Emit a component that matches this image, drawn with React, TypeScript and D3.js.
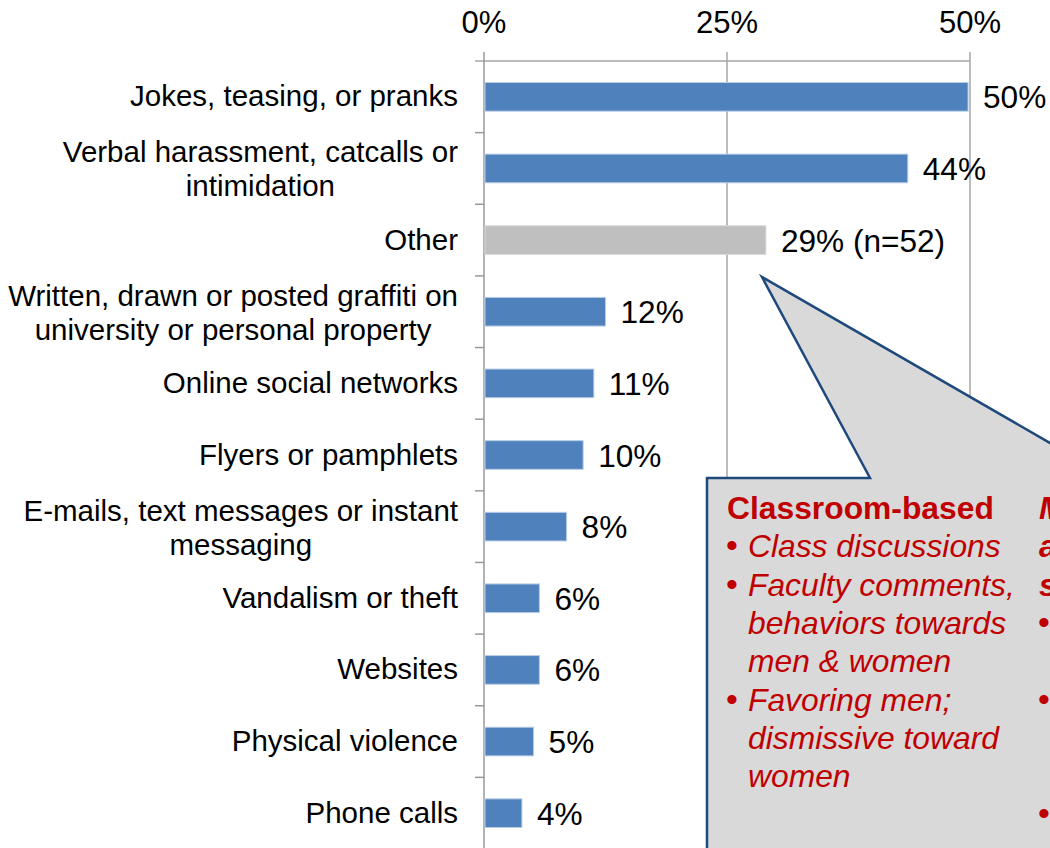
import React from "react";
import * as d3 from "d3";

const categories: string[][] = [
  ["Jokes, teasing, or pranks"],
  ["Verbal harassment, catcalls or", "intimidation"],
  ["Other"],
  ["Written, drawn or posted graffiti on", "university or personal property"],
  ["Online social networks"],
  ["Flyers or pamphlets"],
  ["E-mails, text messages or instant", "messaging"],
  ["Vandalism or theft"],
  ["Websites"],
  ["Physical violence"],
  ["Phone calls"],
];
const values: number[] = [49.8, 43.6, 29.0, 12.5, 11.3, 10.2, 8.5, 5.7, 5.7, 5.1, 3.9];
const valueLabels: string[] = ["50%", "44%", "29% (n=52)", "12%", "11%", "10%", "8%", "6%", "6%", "5%", "4%"];
const highlight: boolean[] = [false, false, true, false, false, false, false, false, false, false, false];
const ticks: number[] = [0, 25, 50];
const tickLabels: string[] = ["0%", "25%", "50%"];

const calloutCol1: { text: string; kind: "head" | "bullet" | "cont" }[] = [
  { text: "Classroom-based", kind: "head" },
  { text: "Class discussions", kind: "bullet" },
  { text: "Faculty comments,", kind: "bullet" },
  { text: "behaviors towards", kind: "cont" },
  { text: "men & women", kind: "cont" },
  { text: "Favoring men;", kind: "bullet" },
  { text: "dismissive toward", kind: "cont" },
  { text: "women", kind: "cont" },
];
const calloutCol2: { text: string; kind: "head" | "bullet" | "cont" }[] = [
  { text: "Male-dominated", kind: "head" },
  { text: "academic", kind: "head" },
  { text: "settings", kind: "head" },
  { text: "Labs and", kind: "bullet" },
  { text: "field work", kind: "cont" },
  { text: "Advising and", kind: "bullet" },
  { text: "mentoring", kind: "cont" },
  { text: "", kind: "cont" },
  { text: "Other", kind: "bullet" },
];

const FONT = "'Liberation Sans', Arial, Helvetica, sans-serif";

export default function App() {
  const W = 1050;
  const H = 848;
  const x0 = 484;
  const x50 = 970;
  const top = 61;
  const bottom = 849;

  const x = d3.scaleLinear().domain([0, 50]).range([x0, x50]);
  const idx = categories.map((_, i) => String(i));
  const y = d3.scaleBand<string>().domain(idx).range([top, bottom]).padding(0);
  const step = y.step();
  const barH = step * 0.4;

  const gridColor = "#a6a6a6";
  const red = "#c00000";

  const tipX = 762, tipY = 277;
  const boxTop = 478, boxLeft = 707;
  const baseLeftX = 870;
  const slope = (443 - tipY) / (1050 - tipX);
  const baseRightX = tipX + (boxTop - tipY) / slope;
  const callout = [
    [boxLeft, boxTop],
    [baseLeftX, boxTop],
    [tipX, tipY],
    [baseRightX, boxTop],
    [1200, boxTop],
    [1200, 950],
    [boxLeft, 950],
  ];
  const calloutPath = d3.line()(callout as [number, number][]) + "Z";

  const lineH = 38.3;
  const firstBase = 519;
  const cfs = 31.8;

  const renderCol = (
    rows: { text: string; kind: string }[],
    colX: number,
    headItalic: boolean
  ) =>
    rows.map((r, i) => {
      const by = firstBase + i * lineH;
      if (r.kind === "head") {
        return (
          <text key={i} x={colX} y={by} fill={red} fontSize={cfs} fontWeight="bold" fontStyle={headItalic ? "italic" : "normal"} fontFamily={FONT}>
            {r.text}
          </text>
        );
      }
      return (
        <g key={i}>
          {r.kind === "bullet" && (
            <text x={colX - 1} y={by} fill={red} fontSize={cfs + 2} fontFamily={FONT}>
              •
            </text>
          )}
          <text x={colX + 21} y={by} fill={red} fontSize={cfs} fontStyle="italic" fontFamily={FONT}>
            {r.text}
          </text>
        </g>
      );
    });

  return (
    <svg
      width={W}
      height={H}
      style={{ position: "absolute", left: 0, top: 0, background: "#fff" }}
      fontFamily={FONT}
    >
      {/* top axis line */}
      <line x1={475} x2={x50} y1={top} y2={top} stroke={gridColor} strokeWidth={1.5} />
      {/* vertical gridlines + ticks */}
      {ticks.map((t) => (
        <line key={t} x1={x(t)} x2={x(t)} y1={52} y2={H} stroke={t === 0 ? "#999" : gridColor} strokeWidth={1.5} />
      ))}
      {ticks.map((t, i) => (
        <text key={"tl" + t} x={x(t)} y={33} textAnchor="middle" fontSize={31} fill="#000">
          {tickLabels[i]}
        </text>
      ))}
      {/* category boundary ticks */}
      {idx.map((d) => (
        <line key={"ct" + d} x1={475} x2={x0} y1={(y(d) as number) + step} y2={(y(d) as number) + step} stroke="#999" strokeWidth={1.5} />
      ))}
      {/* bars */}
      {values.map((v, i) => {
        const cy = (y(String(i)) as number) + step / 2;
        return (
          <rect
            key={"b" + i}
            x={x(0) + 1}
            y={cy - barH / 2}
            width={x(v) - x(0) - 1}
            height={barH}
            fill={highlight[i] ? "#bfbfbf" : "#4f81bd"}
            stroke={highlight[i] ? "#d9d9d9" : "#b9cde5"}
            strokeWidth={1}
          />
        );
      })}
      {/* value labels */}
      {values.map((v, i) => {
        const cy = (y(String(i)) as number) + step / 2;
        return (
          <text key={"v" + i} x={x(v) + 15} y={cy + 11.5} fontSize={31.6} fill="#000">
            {valueLabels[i]}
          </text>
        );
      })}
      {/* category labels */}
      {categories.map((lines, i) => {
        const cy = (y(String(i)) as number) + step / 2;
        const n = lines.length;
        const off = n > 1 ? 11 : 9.5;
        if (n === 1) {
          return (
            <text key={"c" + i} x={458} y={cy + off} textAnchor="end" fontSize={29.5} fill="#000">
              {lines[0]}
            </text>
          );
        }
        return (
          <CenteredBlock key={"c" + i} lines={lines} right={458} cy={cy} off={off} />
        );
      })}
      {/* callout */}
      <path d={calloutPath} fill="#d9d9d9" stroke="#1f497d" strokeWidth={2.5} strokeLinejoin="miter" />
      {renderCol(calloutCol1, 727, false)}
      {renderCol(calloutCol2, 1039, true)}
    </svg>
  );
}

function CenteredBlock({ lines, right, cy, off }: { lines: string[]; right: number; cy: number; off: number }) {
  const ref = React.useRef<SVGGElement>(null);
  const [cx, setCx] = React.useState<number | null>(null);
  React.useLayoutEffect(() => {
    if (!ref.current) return;
    const texts = Array.from(ref.current.querySelectorAll("text")) as SVGTextElement[];
    const widths = texts.map((t) => t.getComputedTextLength());
    const maxW = d3.max(widths) || 0;
    setCx(right - maxW / 2);
  }, [lines, right]);
  const n = lines.length;
  return (
    <g ref={ref}>
      {lines.map((l, j) => (
        <text
          key={j}
          x={cx ?? right}
          y={cy + off + (j - (n - 1) / 2) * 34}
          textAnchor={cx === null ? "end" : "middle"}
          fontSize={29.5}
          fill="#000"
        >
          {l}
        </text>
      ))}
    </g>
  );
}
